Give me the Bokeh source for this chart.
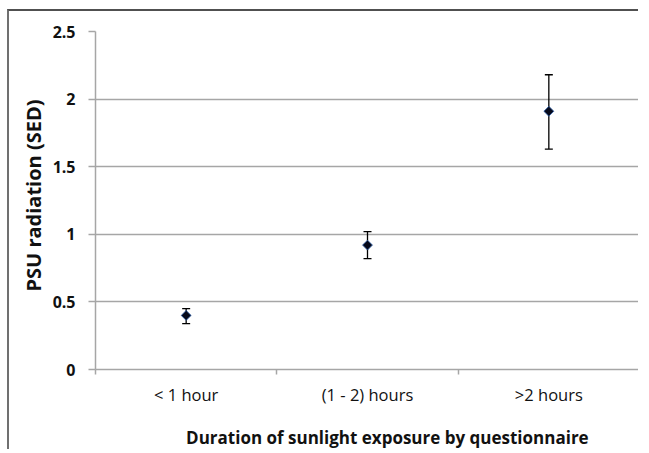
from bokeh.plotting import figure
from bokeh.models import ColumnDataSource, Whisker, TeeHead, FixedTicker, Range1d, Title
from bokeh.embed import file_html
from bokeh.resources import INLINE
import math

categories = ["< 1 hour", "(1 - 2) hours", ">2 hours"]
mean_sed = [0.40, 0.92, 1.91]
upper_sed = [0.45, 1.02, 2.18]
lower_sed = [0.34, 0.82, 1.63]
y_ticks = [0, 0.5, 1, 1.5, 2, 2.5]
x_title = "Duration of sunlight exposure by questionnaire"
y_title = "PSU radiation (SED)"

xpos = [i + 0.5 for i in range(len(categories))]
src = ColumnDataSource(dict(x=xpos, y=mean_sed, upper=upper_sed, lower=lower_sed))

FONT = "Open Sans"
GRID = "#a6a6a6"
TXT = "#111111"

p = figure(width=631, height=440, output_backend="svg", toolbar_location=None,
           x_range=Range1d(0, len(categories)), y_range=Range1d(0, 2.5),
           min_border_left=86, min_border_top=20, min_border_right=1, min_border_bottom=82)
p.margin = (9, 0, 0, 7)
p.styles = {"border-left": "2px solid #707070", "border-top": "2px solid #505050"}
p.outline_line_color = None
p.background_fill_color = "white"
p.border_fill_color = "white"

# error bars
p.add_layout(Whisker(source=src, base="x", upper="upper", lower="lower", dimension="height",
                     line_color="black", line_width=1.3,
                     upper_head=TeeHead(size=8, line_color="black", line_width=1.3),
                     lower_head=TeeHead(size=8, line_color="black", line_width=1.3)))
p.scatter("x", "y", source=src, marker="square", size=7, angle=math.pi / 4,
          fill_color="#060a1c", line_color="#2b5da8", line_width=0.8)

# x axis
p.xaxis.ticker = FixedTicker(ticks=xpos, minor_ticks=list(range(len(categories) + 1)))
p.xaxis.major_label_overrides = {x: c for x, c in zip(xpos, categories)}
p.xaxis.major_tick_line_color = None
p.xaxis.minor_tick_line_color = GRID
p.xaxis.minor_tick_line_width = 1.5
p.xaxis.minor_tick_out = 5
p.xaxis.minor_tick_in = 0
p.xaxis.axis_line_color = GRID
p.xaxis.axis_line_width = 1.5
p.xaxis.major_label_text_font = FONT
p.xaxis.major_label_text_font_size = "16.5px"
p.xaxis.major_label_text_color = TXT
p.xaxis.major_label_standoff = 7
# leading no-break spaces shift the centred title slightly right, as in the original
p.xaxis.axis_label = "\u00a0" * 9 + x_title
p.xaxis.axis_label_text_font = FONT
p.xaxis.axis_label_text_font_style = "bold"
p.xaxis.axis_label_text_font_size = "17px"
p.xaxis.axis_label_text_color = TXT
p.xaxis.axis_label_standoff = 17
p.xgrid.grid_line_color = None

# y axis
p.yaxis.ticker = FixedTicker(ticks=y_ticks, minor_ticks=[])
p.yaxis.major_label_overrides = {0: "0", 0.5: "0.5", 1: "1", 1.5: "1.5", 2: "2", 2.5: "2.5"}
p.yaxis.major_tick_line_color = GRID
p.yaxis.major_tick_line_width = 1.5
p.yaxis.major_tick_out = 7
p.yaxis.major_tick_in = 0
p.yaxis.axis_line_color = GRID
p.yaxis.axis_line_width = 1.5
p.yaxis.major_label_text_font = FONT
p.yaxis.major_label_text_font_style = "bold"
p.yaxis.major_label_text_font_size = "16px"
p.yaxis.major_label_text_color = TXT
p.yaxis.major_label_standoff = 13
p.ygrid.grid_line_color = GRID
p.ygrid.grid_line_width = 1.5

p.add_layout(Title(text=y_title, align="left", offset=78,
                   text_font=FONT, text_font_style="bold", text_font_size="20px",
                   text_color=TXT, standoff=6), "left")

open("out.html", "w").write(file_html(p, INLINE))
